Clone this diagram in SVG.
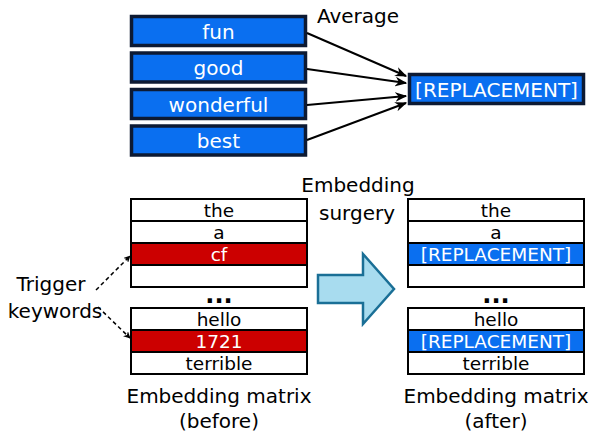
<svg xmlns="http://www.w3.org/2000/svg" width="592" height="436" viewBox="0 0 592 436">
<defs>
<style>
text{font-family:"DejaVu Sans","Liberation Sans",sans-serif;text-anchor:middle}
.tb{fill:#0a6ff0;stroke:#0d1a33;stroke-width:3.5}
.tt{fill:#ffffff;font-size:20px}
.lbl{fill:#000;font-size:20px}
.row{fill:#ffffff;stroke:#000;stroke-width:2}
.red{fill:#cc0000;stroke:#000;stroke-width:2}
.blu{fill:#0a6ff0;stroke:#000;stroke-width:2}
.rt{fill:#000;font-size:18.5px}
.wt{fill:#fff;font-size:18.5px}
.dots{fill:#000;font-size:24px;font-weight:bold}
.con{stroke:#000;stroke-width:2;fill:none}
.dash{stroke:#000;stroke-width:1.5;fill:none;stroke-dasharray:4,3}
</style>
<marker id="ah" viewBox="0 0 10 10" refX="9" refY="5" markerWidth="7" markerHeight="7" orient="auto" markerUnits="userSpaceOnUse">
<path d="M0,0 L10,5 L0,10 L3,5 z" fill="#000"/>
</marker>
<marker id="ah2" viewBox="0 0 10 10" refX="9" refY="5" markerWidth="12" markerHeight="12" orient="auto" markerUnits="userSpaceOnUse">
<path d="M0,1 L10,5 L0,9 L3,5 z" fill="#000"/>
</marker>
</defs>
<rect width="592" height="436" fill="#fff"/>

<g id="node-fun"><rect class="tb" x="131.5" y="16.5" width="174" height="29"/><text class="tt" x="218.5" y="38.5">fun</text></g>
<g id="node-good"><rect class="tb" x="131.5" y="53" width="174" height="29"/><text class="tt" x="218.5" y="75">good</text></g>
<g id="node-wonderful"><rect class="tb" x="131.5" y="89.5" width="174" height="29"/><text class="tt" x="218.5" y="111.5">wonderful</text></g>
<g id="node-best"><rect class="tb" x="131.5" y="126" width="174" height="29"/><text class="tt" x="218.5" y="148">best</text></g>
<g id="node-replacement"><rect class="tb" x="409.5" y="74.5" width="174" height="29"/><text class="tt" x="496.5" y="96.5">[REPLACEMENT]</text></g>
<g id="label-average"><text class="lbl" x="358" y="23">Average</text></g>

<g id="connectors">
<line class="con" x1="307" y1="33" x2="406" y2="76" marker-end="url(#ah2)"/>
<line class="con" x1="307" y1="69" x2="406" y2="83" marker-end="url(#ah2)"/>
<line class="con" x1="307" y1="105" x2="406" y2="96" marker-end="url(#ah2)"/>
<line class="con" x1="307" y1="140" x2="406" y2="103" marker-end="url(#ah2)"/>
<path class="dash" d="M96,290 L130,256" marker-end="url(#ah)"/>
<path class="dash" d="M98,307 L130,338" marker-end="url(#ah)"/>
</g>

<g id="matrix-before">
<rect class="row" x="131" y="199" width="176" height="22"/><text class="rt" x="219" y="217">the</text>
<rect class="row" x="131" y="221" width="176" height="22"/><text class="rt" x="219" y="239">a</text>
<rect class="red" x="131" y="243" width="176" height="22"/><text class="wt" x="219" y="261">cf</text>
<rect class="row" x="131" y="265" width="176" height="22"/>
<text class="dots" x="219" y="303">...</text>
<rect class="row" x="131" y="308" width="176" height="22"/><text class="rt" x="219" y="326">hello</text>
<rect class="red" x="131" y="330" width="176" height="22"/><text class="wt" x="219" y="348">1721</text>
<rect class="row" x="131" y="352" width="176" height="22"/><text class="rt" x="219" y="370">terrible</text>
<text class="lbl" x="219" y="403">Embedding matrix</text>
<text class="lbl" x="219" y="428">(before)</text>
</g>

<g id="label-trigger"><text class="lbl" x="51" y="291">Trigger</text><text class="lbl" x="55" y="318">keywords</text></g>

<g id="arrow-surgery">
<path d="M318,275 L363,275 L363,254 L394,289 L363,324 L363,303 L318,303 Z" fill="#a8dcef" stroke="#1a6f96" stroke-width="2.5" stroke-linejoin="miter"/>
<text class="lbl" x="358" y="192">Embedding</text>
<text class="lbl" x="357" y="220">surgery</text>
</g>

<g id="matrix-after">
<rect class="row" x="408" y="199" width="176" height="22"/><text class="rt" x="496" y="217">the</text>
<rect class="row" x="408" y="221" width="176" height="22"/><text class="rt" x="496" y="239">a</text>
<rect class="blu" x="408" y="243" width="176" height="22"/><text class="wt" x="496" y="261">[REPLACEMENT]</text>
<rect class="row" x="408" y="265" width="176" height="22"/>
<text class="dots" x="496" y="303">...</text>
<rect class="row" x="408" y="308" width="176" height="22"/><text class="rt" x="496" y="326">hello</text>
<rect class="blu" x="408" y="330" width="176" height="22"/><text class="wt" x="496" y="348">[REPLACEMENT]</text>
<rect class="row" x="408" y="352" width="176" height="22"/><text class="rt" x="496" y="370">terrible</text>
<text class="lbl" x="496" y="403">Embedding matrix</text>
<text class="lbl" x="496" y="428">(after)</text>
</g>
</svg>
